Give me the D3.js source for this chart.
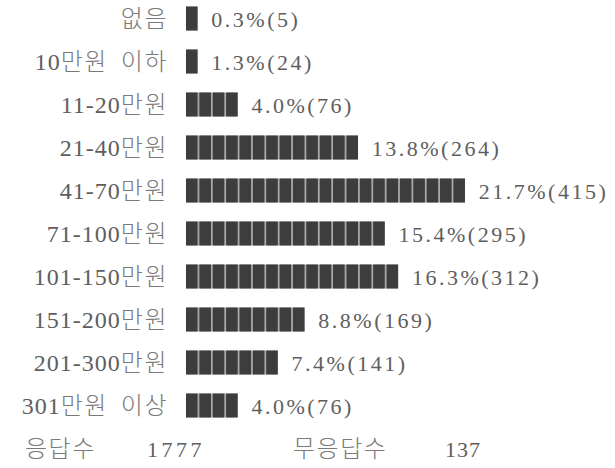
<!DOCTYPE html>
<html>
<head>
<meta charset="utf-8">
<script src="https://cdn.jsdelivr.net/npm/d3@7"></script>
<style>
  html, body { margin: 0; padding: 0; background: #fff; }
  svg { display: block; }
</style>
</head>
<body>
<svg id="chart" width="615" height="468"></svg>
<script>
// ---- data ----
const categories = ["없음", "10만원\u2002이하", "11-20만원", "21-40만원", "41-70만원",
                    "71-100만원", "101-150만원", "151-200만원", "201-300만원", "301만원\u2002이상"];
const percents = [0.3, 1.3, 4.0, 13.8, 21.7, 15.4, 16.3, 8.8, 7.4, 4.0];
const counts   = [5, 24, 76, 264, 415, 295, 312, 169, 141, 76];
const blocks   = [1, 1, 4, 13, 21, 15, 16, 9, 7, 4];
const summaryLabels = ["응답수", "무응답수"];
const summaryValues = [1777, 137];

// ---- layout ----
const svg = d3.select("#chart");
const labelRight = 168;
const barLeft = 186;
const pitch = 43;
const barH = 24;
const gap = 1.8;

const y = d3.scalePoint()
  .domain(categories)
  .range([18.5, 18.5 + pitch * (categories.length - 1)]);

const x = d3.scaleLinear().domain([0, 1]).range([0, 13.37]);

const rows = categories.map((c, i) => ({ c, p: percents[i], n: counts[i], b: blocks[i] }));

const serif = "'Liberation Serif', 'Noto Sans CJK KR', serif";
const hangulRe = /([\uAC00-\uD7A3]+)/;

// write a label, Hangul runs drawn lighter like the scanned Myeongjo type
function mixedText(sel, str) {
  str.split(hangulRe).filter(s => s.length).forEach(part => {
    const isH = hangulRe.test(part);
    sel.append("tspan")
      .attr("font-weight", isH ? 300 : 400)
      .attr("fill", isH ? "#7a7a7a" : "#5e5e5e")
      .attr("letter-spacing", isH ? 1.5 : 1)
      .text(part);
  });
}

const g = svg.selectAll("g.row").data(rows).join("g")
  .attr("class", "row")
  .attr("transform", d => `translate(0,${y(d.c)})`);

// category labels
g.append("text")
  .attr("x", labelRight)
  .attr("y", 8)
  .attr("text-anchor", "end")
  .attr("font-family", serif)
  .attr("font-size", 24)
  .each(function (d) { mixedText(d3.select(this), d.c); });

// bar background (gap colour)
g.append("rect")
  .attr("x", barLeft)
  .attr("y", -barH / 2)
  .attr("width", d => x(d.b) - gap)
  .attr("height", barH)
  .attr("fill", "#a9a9a9");

// blocks
g.selectAll("rect.blk")
  .data(d => d3.range(d.b))
  .join("rect")
  .attr("class", "blk")
  .attr("x", j => barLeft + x(j))
  .attr("y", -barH / 2)
  .attr("width", x(1) - gap)
  .attr("height", barH)
  .attr("fill", "#3d3d3d");

// value labels
g.append("text")
  .attr("x", d => barLeft + x(d.b) + 12)
  .attr("y", 8)
  .attr("font-family", serif)
  .attr("font-size", 22)
  .attr("letter-spacing", 2.5)
  .attr("fill", "#5e5e5e")
  .text(d => `${d.p.toFixed(1)}%(${d.n})`);

// summary row
const ySum = y(categories[categories.length - 1]) + pitch;
const sumPos = [[25, 147], [293, 445]];
summaryLabels.forEach((lab, i) => {
  const t = svg.append("text")
    .attr("x", sumPos[i][0]).attr("y", ySum + 8)
    .attr("font-family", serif).attr("font-size", 24);
  mixedText(t, lab);
  svg.append("text")
    .attr("x", sumPos[i][1]).attr("y", ySum + 8)
    .attr("font-family", serif).attr("font-size", 22)
    .attr("letter-spacing", i === 0 ? 3.5 : 1)
    .attr("fill", "#5e5e5e")
    .text(summaryValues[i]);
});
</script>
</body>
</html>
